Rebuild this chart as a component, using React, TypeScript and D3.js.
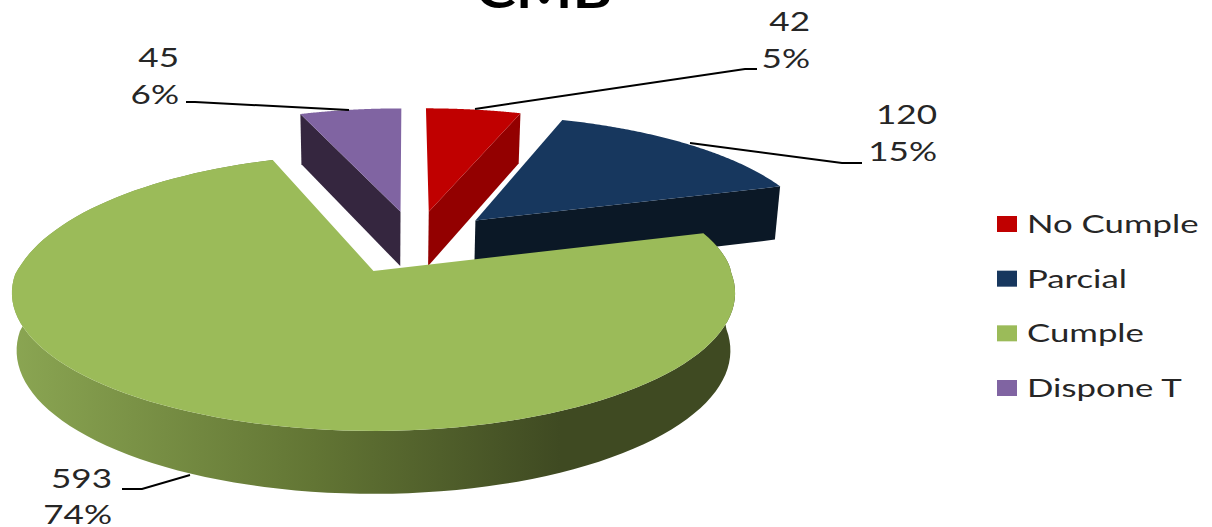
import React from "react";
import * as d3 from "d3";

// Inspection results per category
const categories = ["No Cumple", "Parcial", "Cumple", "Dispone T"];
const counts = [42, 120, 593, 45];
const topColors = ["#c00000", "#17375e", "#9bbb59", "#8064a2"];
const wallColors = ["#930000", "#0b1826", "url(#frontWall)", "#35263f"];
// Which side faces of each wedge can be seen from the camera
const visibleWalls = ["end", "end", "arc", "start"];

// Callout anchors: leader polyline plus the right edge and baselines of its two text rows
const calloutLeaders = [
  [[475, 109], [745, 69], [757, 69]],
  [[690, 143], [842, 163], [862, 163]],
  [[190, 475], [142, 489], [122, 489]],
  [[349, 110], [195, 102], [186, 102]],
];
const calloutText = [
  { x: 810, y1: 31, y2: 68 },
  { x: 937, y1: 124, y2: 161 },
  { x: 112, y1: 488, y2: 524 },
  { x: 179, y1: 67, y2: 104 },
];

const WIDTH = 1212;
const HEIGHT = 527;
const EXPLODE = 0.25;

// Perspective camera for the pie plane, with a slight yaw and lift on the far side
const camera = {
  cx: 373.5,
  cy: 271,
  fx: 357,
  fy: 134.5,
  k: 0.159,
  depth: 56.7,
  baseShrink: 0.987,
  yaw: 7,
  lift: 2,
};

const arcs = d3
  .pie<number>()
  .sort(null)
  .startAngle(0)
  .endAngle(2 * Math.PI)(counts);

const mid = (a: d3.PieArcDatum<number>) => (a.startAngle + a.endAngle) / 2;

// The camera is centred on the apex of the largest wedge
const focusArc = arcs[2];
const focus = { u: EXPLODE * Math.sin(mid(focusArc)), v: EXPLODE * Math.cos(mid(focusArc)) };

type Pt = [number, number];

function project(u: number, v: number, lowered = false): Pt {
  const du = u - focus.u;
  const dv = v - focus.v;
  const w = 1 + camera.k * dv;
  const x = (camera.fx * du) / w;
  const y = (-camera.fy * dv) / w;
  const sx = camera.yaw * Math.sqrt(Math.max(0, dv));
  const sy = camera.lift * Math.max(0, dv - 0.3);
  if (!lowered) return [camera.cx + x + sx, camera.cy + y - sy];
  return [
    camera.cx + x * camera.baseShrink + sx,
    camera.cy + y - sy + camera.depth / Math.pow(w, 0.6),
  ];
}

const toPath = d3.line<Pt>();

function wedgePaths(a: d3.PieArcDatum<number>, wall: string) {
  const ou = EXPLODE * Math.sin(mid(a));
  const ov = EXPLODE * Math.cos(mid(a));
  const rim = d3.range(0, 121).map((i) => {
    const t = a.startAngle + ((a.endAngle - a.startAngle) * i) / 120;
    return [ou + Math.sin(t), ov + Math.cos(t)] as Pt;
  });
  const top = [project(ou, ov), ...rim.map(([u, v]) => project(u, v))];
  let side: Pt[];
  if (wall === "arc") {
    side = [
      ...rim.map(([u, v]) => project(u, v)),
      ...rim.slice().reverse().map(([u, v]) => project(u, v, true)),
    ];
  } else {
    const edge = wall === "end" ? rim[rim.length - 1] : rim[0];
    side = [
      project(ou, ov),
      project(edge[0], edge[1]),
      project(edge[0], edge[1], true),
      project(ou, ov, true),
    ];
  }
  return { top: toPath(top) + "Z", side: toPath(side) + "Z" };
}

const total = d3.sum(counts);
const pct = d3.format(".0%");

// Far wedges are painted first so the large wedge overlaps them
const paintOrder = [3, 0, 1, 2];

const legendY = d3.scalePoint<string>().domain(categories).range([224, 388]);

const textFont = "Lato, 'Noto Sans', sans-serif";
const textColor = "#262626";

function Wide({ x, y, size, anchor = "end", weight = 400, fill = textColor, sx = 1.35, children }: any) {
  return (
    <text
      transform={`translate(${x},${y}) scale(${sx},1)`}
      fontFamily={textFont}
      fontSize={size}
      fontWeight={weight}
      textAnchor={anchor}
      fill={fill}
    >
      {children}
    </text>
  );
}

export default function App() {
  return (
    <svg
      width={WIDTH}
      height={HEIGHT}
      viewBox={`0 0 ${WIDTH} ${HEIGHT}`}
      style={{ position: "fixed", left: 0, top: 0, display: "block", background: "#fff" }}
    >
      <defs>
        <linearGradient id="frontWall" gradientUnits="userSpaceOnUse" x1={15} x2={560} y1={0} y2={0}>
          <stop offset="0" stopColor="#8aa552" />
          <stop offset="0.55" stopColor="#627534" />
          <stop offset="1" stopColor="#3f4a22" />
        </linearGradient>
      </defs>

      <Wide x={544} y={8} size={48} weight={700} fill="#000" anchor="middle" sx={1.25}>
        CMB
      </Wide>

      {paintOrder.map((i) => {
        const { top, side } = wedgePaths(arcs[i], visibleWalls[i]);
        return (
          <g key={categories[i]}>
            <path d={side} fill={wallColors[i]} />
            <path d={top} fill={topColors[i]} />
          </g>
        );
      })}

      {calloutLeaders.map((pts, i) => (
        <path key={i} d={toPath(pts as Pt[]) ?? ""} fill="none" stroke="#000" strokeWidth={2} />
      ))}

      {counts.map((c, i) => (
        <g key={categories[i]}>
          <Wide x={calloutText[i].x} y={calloutText[i].y1} size={26}>
            {c}
          </Wide>
          <Wide x={calloutText[i].x} y={calloutText[i].y2} size={26}>
            {pct(c / total)}
          </Wide>
        </g>
      ))}

      {categories.map((name, i) => (
        <g key={name}>
          <rect x={997} y={(legendY(name) as number) - 8} width={20} height={16} fill={topColors[i]} />
          <Wide x={1027} y={(legendY(name) as number) + 9} size={25} anchor="start" sx={1.39}>
            {name}
          </Wide>
        </g>
      ))}
    </svg>
  );
}
